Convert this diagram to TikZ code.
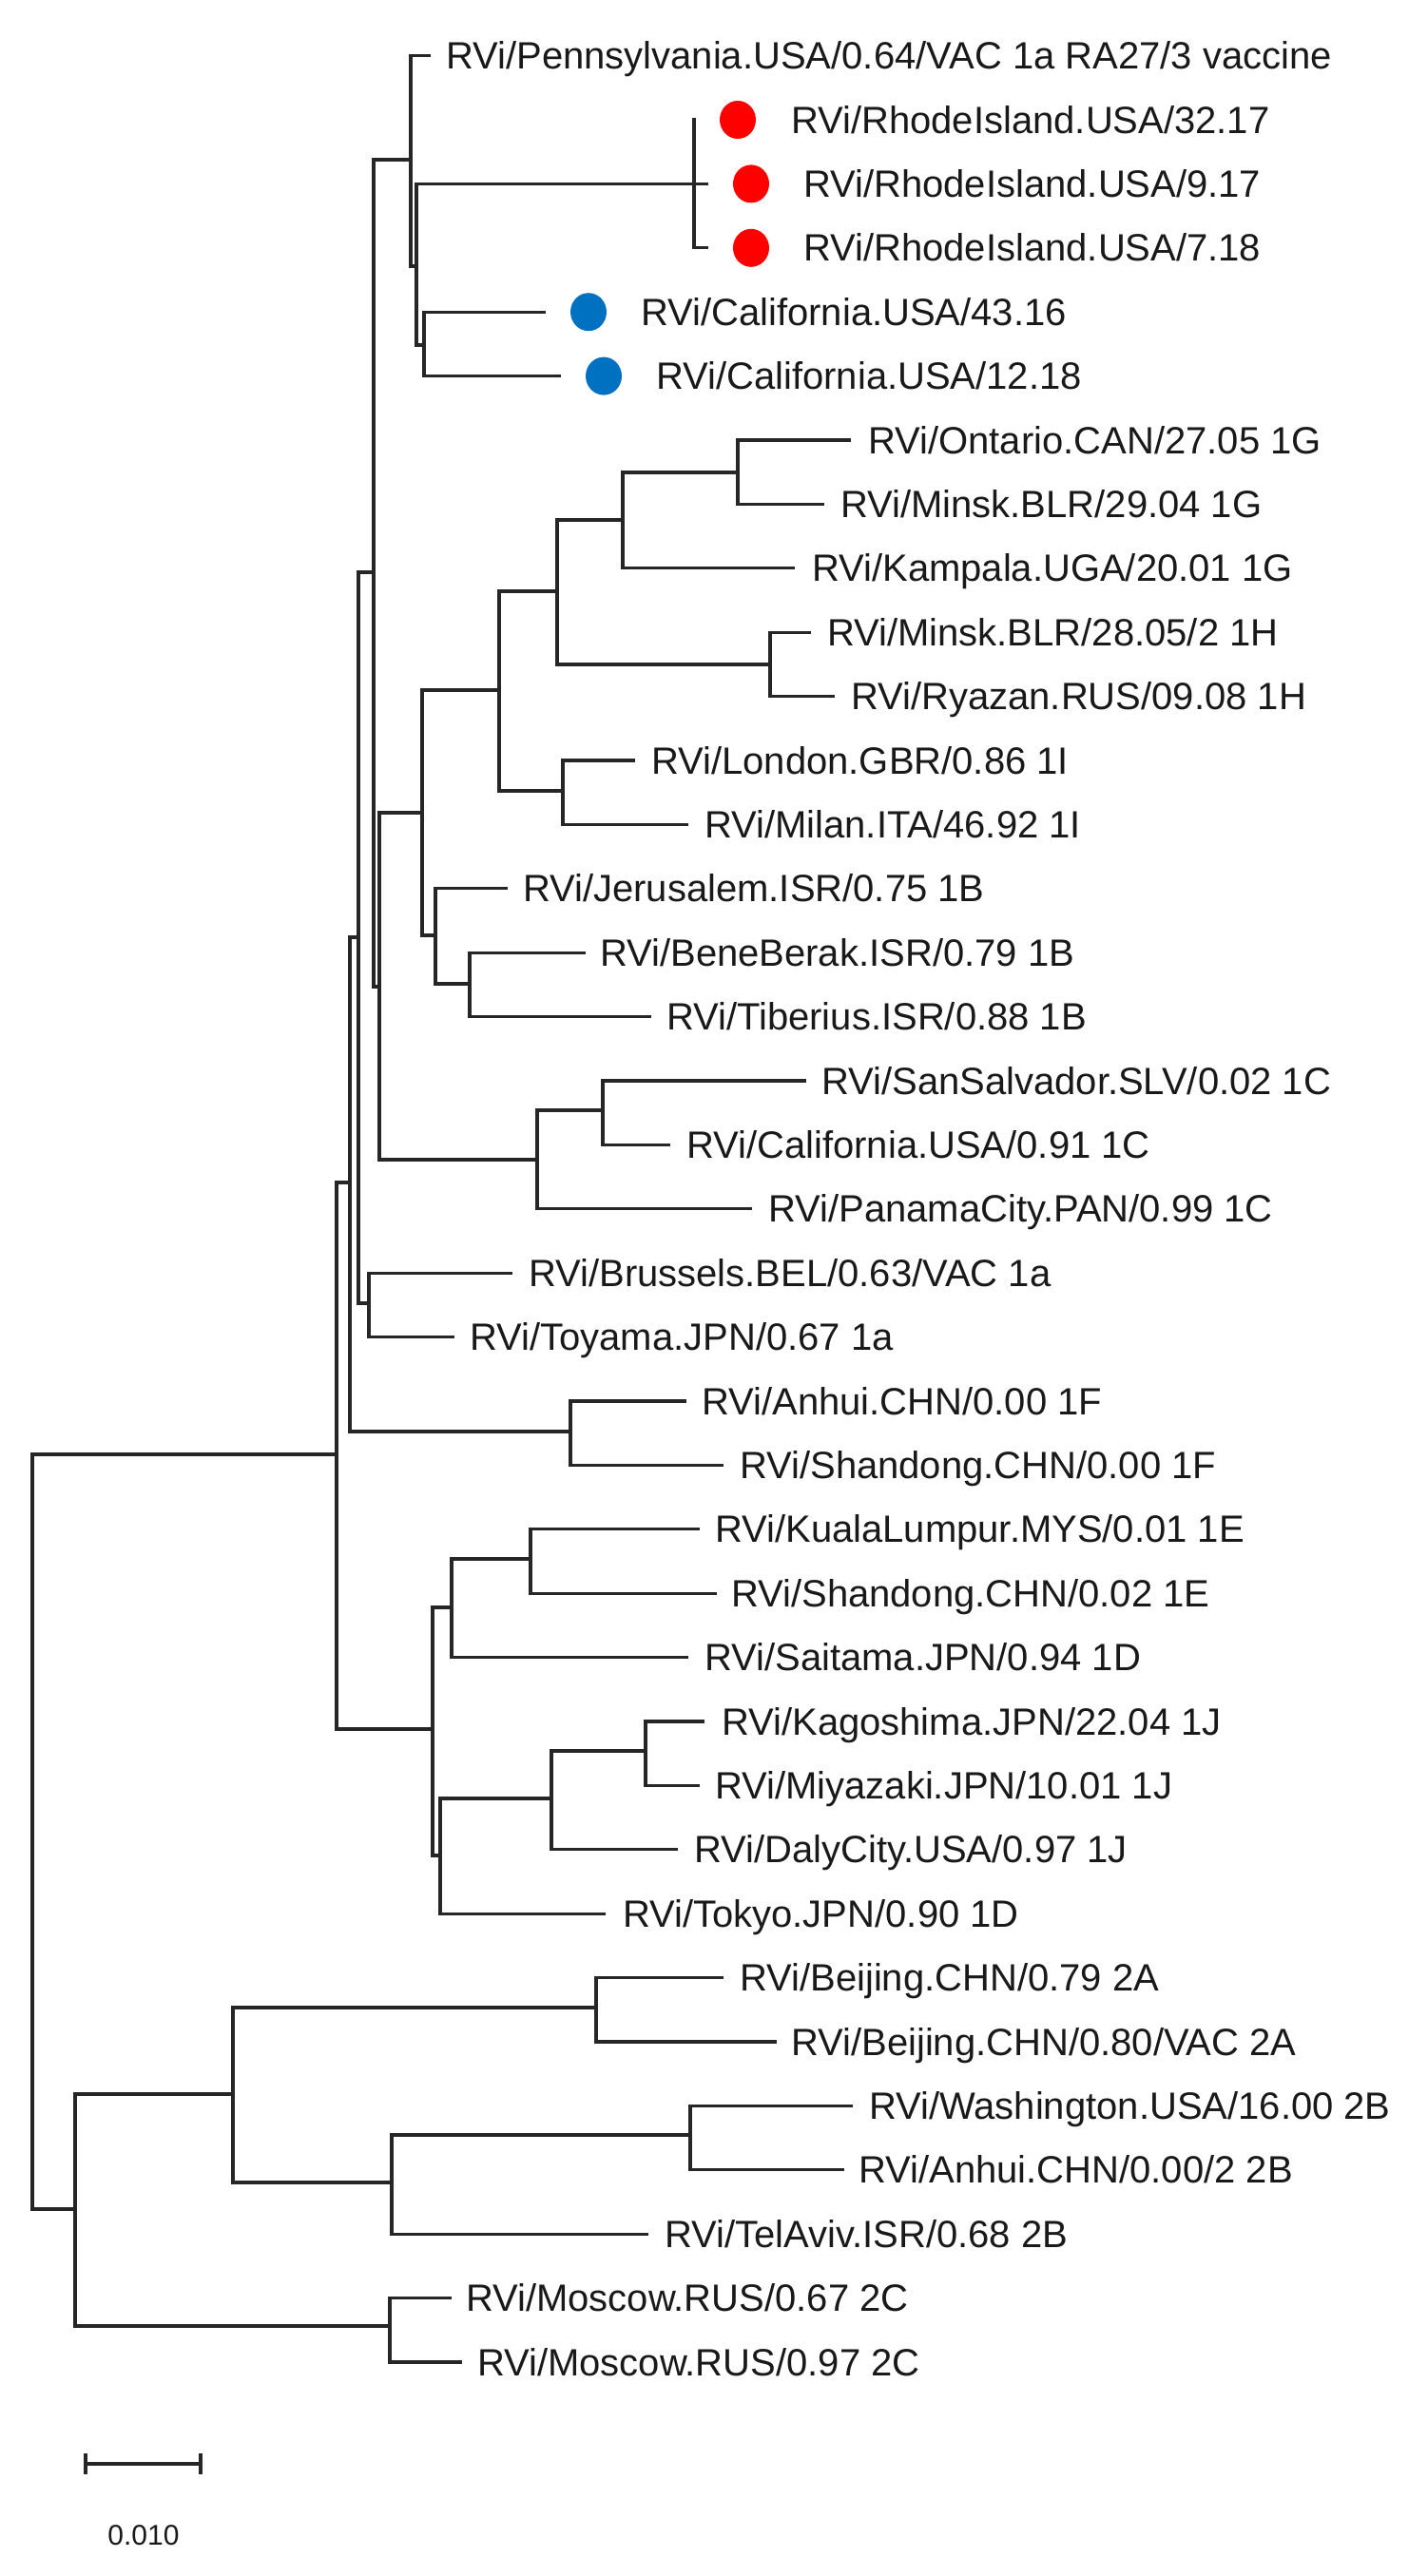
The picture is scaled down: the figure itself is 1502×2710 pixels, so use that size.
\documentclass[tikz,border=0pt]{standalone}
\usepackage{fontspec}
\setmainfont{Liberation Sans}
\begin{document}
\begin{tikzpicture}[x=1pt,y=-1pt,
  br/.style={draw=black!85,line width=3.2pt,line cap=rect},
  lbl/.style={anchor=base west,inner sep=0pt,font=\fontsize{40}{48}\selectfont,text=black!90},
  reddot/.style={fill=red,draw=none,ellipse-ish},
  ellipse-ish/.style={}]
\useasboundingbox (0,0) rectangle (1502,2710);
\newcommand{\leaf}[5]{\coordinate (#1) at (#2,#3); \node[lbl] (t#1) at (#4,#3+14) {#5};}
% leaves
\leaf{penn}{451}{58.6}{469}{RVi/Pennsylvania.USA/0.64/VAC 1a RA27/3 vaccine}
\leaf{riA}{730}{126.0}{832}{RVi/RhodeIsland.USA/32.17}
\leaf{riB}{743}{193.4}{845}{RVi/RhodeIsland.USA/9.17}
\leaf{riC}{743}{260.8}{845}{RVi/RhodeIsland.USA/7.18}
\leaf{calA}{572}{328.2}{674}{RVi/California.USA/43.16}
\leaf{calB}{588}{395.6}{690}{RVi/California.USA/12.18}
\leaf{ont}{893}{463.0}{913}{RVi/Ontario.CAN/27.05 1G}
\leaf{minA}{865}{530.4}{884}{RVi/Minsk.BLR/29.04 1G}
\leaf{kam}{834}{597.8}{854}{RVi/Kampala.UGA/20.01 1G}
\leaf{minB}{851}{665.2}{870}{RVi/Minsk.BLR/28.05/2 1H}
\leaf{rya}{876}{732.6}{895}{RVi/Ryazan.RUS/09.08 1H}
\leaf{lon}{666}{800.0}{685}{RVi/London.GBR/0.86 1I}
\leaf{mil}{722}{867.4}{741}{RVi/Milan.ITA/46.92 1I}
\leaf{jer}{532}{934.8}{550}{RVi/Jerusalem.ISR/0.75 1B}
\leaf{ben}{614}{1002.2}{631}{RVi/BeneBerak.ISR/0.79 1B}
\leaf{tib}{683}{1069.6}{701}{RVi/Tiberius.ISR/0.88 1B}
\leaf{san}{846}{1137.0}{864}{RVi/SanSalvador.SLV/0.02 1C}
\leaf{calC}{703}{1204.4}{722}{RVi/California.USA/0.91 1C}
\leaf{pan}{789}{1271.8}{808}{RVi/PanamaCity.PAN/0.99 1C}
\leaf{bru}{537}{1339.2}{556}{RVi/Brussels.BEL/0.63/VAC 1a}
\leaf{toy}{476}{1406.6}{494}{RVi/Toyama.JPN/0.67 1a}
\leaf{anhA}{720}{1474.0}{738}{RVi/Anhui.CHN/0.00 1F}
\leaf{shaA}{759}{1541.4}{778}{RVi/Shandong.CHN/0.00 1F}
\leaf{kua}{734}{1608.8}{752}{RVi/KualaLumpur.MYS/0.01 1E}
\leaf{shaB}{752}{1676.2}{769}{RVi/Shandong.CHN/0.02 1E}
\leaf{sai}{722}{1743.6}{741}{RVi/Saitama.JPN/0.94 1D}
\leaf{kag}{739}{1811.0}{759}{RVi/Kagoshima.JPN/22.04 1J}
\leaf{miy}{734}{1878.4}{752}{RVi/Miyazaki.JPN/10.01 1J}
\leaf{dal}{711}{1945.8}{730}{RVi/DalyCity.USA/0.97 1J}
\leaf{tok}{635}{2013.2}{655}{RVi/Tokyo.JPN/0.90 1D}
\leaf{beiA}{759}{2080.6}{778}{RVi/Beijing.CHN/0.79 2A}
\leaf{beiB}{815}{2148.0}{832}{RVi/Beijing.CHN/0.80/VAC 2A}
\leaf{was}{895}{2215.4}{914}{RVi/Washington.USA/16.00 2B}
\leaf{anhB}{886}{2282.8}{903}{RVi/Anhui.CHN/0.00/2 2B}
\leaf{tel}{680}{2350.2}{699}{RVi/TelAviv.ISR/0.68 2B}
\leaf{mosA}{473}{2417.6}{490}{RVi/Moscow.RUS/0.67 2C}
\leaf{mosB}{484}{2485.0}{502}{RVi/Moscow.RUS/0.97 2C}
% internal nodes
\coordinate (root) at (34,1530);
\coordinate (n740) at (354,1530);
\coordinate (n770) at (368,1244);
\coordinate (n787) at (377,986);
\coordinate (n822) at (393,602);
\coordinate (n903) at (432,168);
\coordinate (n916) at (438,280);
\coordinate (nri) at (730,193.4);
\coordinate (ncal) at (446,363);
\coordinate (n833) at (399,1038);
\coordinate (n927) at (444,855);
\coordinate (n1097) at (525,726);
\coordinate (n1225) at (586,622);
\coordinate (n1370) at (655,547);
\coordinate (n1g) at (776,497);
\coordinate (n1h) at (810,699);
\coordinate (nlm) at (592,832);
\coordinate (n458) at (458,984);
\coordinate (n494) at (494,1035);
\coordinate (n1c) at (565,1220);
\coordinate (n634) at (634,1168);
\coordinate (nbt) at (388,1371);
\coordinate (n1f) at (600,1506);
\coordinate (n455) at (455,1819);
\coordinate (n475) at (475,1691);
\coordinate (n558) at (558,1640);
\coordinate (n463) at (463,1952);
\coordinate (n580) at (580,1892);
\coordinate (n679) at (679,1842);
\coordinate (n79) at (79,2324);
\coordinate (n245) at (245,2203);
\coordinate (nbei) at (627,2112);
\coordinate (n412) at (412,2296);
\coordinate (n726) at (726,2246);
\coordinate (nmos) at (410,2447);
% branches
\foreach \p/\c in {root/n740,root/n79,n740/n770,n740/n455,n770/n787,n770/n1f,
  n787/n822,n787/nbt,n822/n903,n822/n833,n903/penn,n903/n916,n916/nri,n916/ncal,
  nri/riA,nri/riB,nri/riC,ncal/calA,ncal/calB,n833/n927,n833/n1c,n927/n1097,n927/n458,
  n1097/n1225,n1097/nlm,n1225/n1370,n1225/n1h,n1370/n1g,n1370/kam,n1g/ont,n1g/minA,
  n1h/minB,n1h/rya,nlm/lon,nlm/mil,n458/jer,n458/n494,n494/ben,n494/tib,
  n1c/n634,n1c/pan,n634/san,n634/calC,nbt/bru,nbt/toy,n1f/anhA,n1f/shaA,
  n455/n475,n455/n463,n475/n558,n475/sai,n558/kua,n558/shaB,n463/n580,n463/tok,
  n580/n679,n580/dal,n679/kag,n679/miy,n79/n245,n79/nmos,n245/nbei,n245/n412,
  nbei/beiA,nbei/beiB,n412/n726,n412/tel,n726/was,n726/anhB,nmos/mosA,nmos/mosB}
  {\draw[br] (\p) |- (\c);}
% markers
\foreach \x/\y in {776/126.0,790/193.4,790/260.8}
  {\fill[red] (\x,\y) ellipse [x radius=19,y radius=20];}
\foreach \x/\y in {619/328.2,635/395.6}
  {\fill[color={rgb,255:red,0;green,112;blue,192}] (\x,\y) ellipse [x radius=19,y radius=20];}
% scale bar
\coordinate (sbL) at (90,2592);
\coordinate (sbR) at (211,2592);
\draw[br,line cap=butt] (sbL) -- (sbR);
\draw[br,line cap=butt] ([yshift=-11pt]sbL) -- ([yshift=11pt]sbL);
\draw[br,line cap=butt] ([yshift=-11pt]sbR) -- ([yshift=11pt]sbR);
\node[anchor=base,inner sep=0pt,font=\fontsize{30}{36}\selectfont,text=black!90] (sbt) at (151,2677) {0.010};
\end{tikzpicture}
\end{document}
